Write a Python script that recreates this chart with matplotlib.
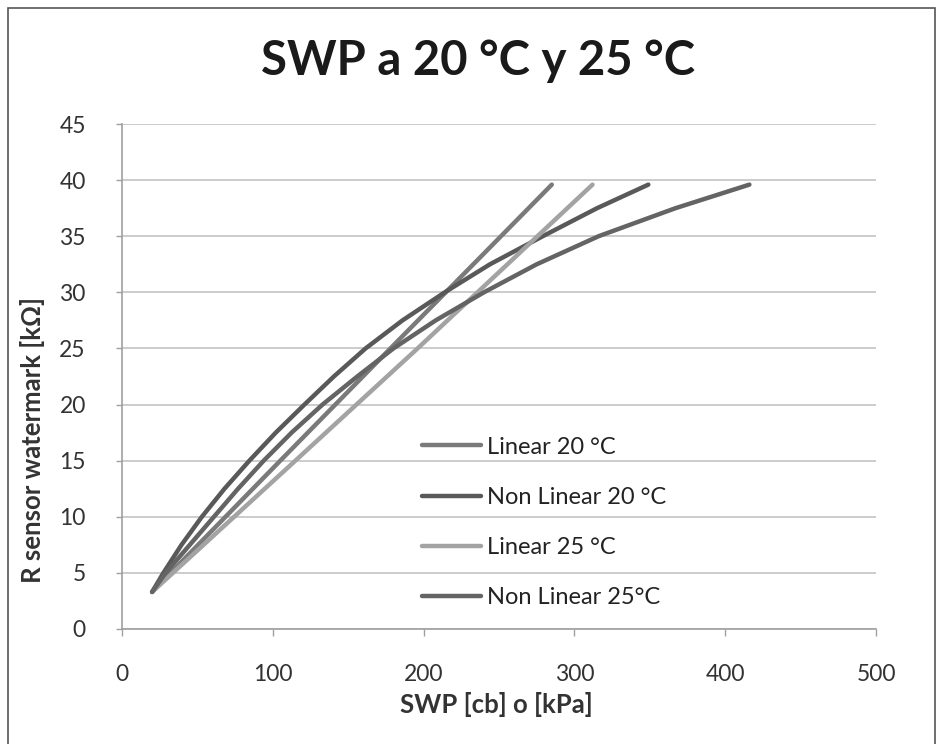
import matplotlib
matplotlib.use("Agg")
import matplotlib.pyplot as plt
from matplotlib.patches import Rectangle

plt.rcParams['font.family'] = ['Lato', 'DejaVu Sans']

# R sensor readings (kOhm) and SWP values (cb)
r_nl = [3.3, 5, 7.5, 10, 12.5, 15, 17.5, 20, 22.5, 25, 27.5, 30, 32.5, 35, 37.5, 39.6]
swp_nl20 = [20, 27.5, 39.5, 53, 68, 84.5, 102, 121, 140.5, 161.5, 186, 214, 244, 279, 315, 349]
swp_nl25 = [20, 29, 45, 61, 77, 94, 112.5, 133, 156, 180, 208, 240, 275, 316, 367, 416]

r_lin = [3.3, 15, 25, 39.6]
swp_l20 = [20, 105, 178, 285]
swp_l25 = [20, 115, 196, 312]

xticks = [0, 100, 200, 300, 400, 500]
yticks = [0, 5, 10, 15, 20, 25, 30, 35, 40, 45]

fig = plt.figure(figsize=(9.38, 7.44), dpi=100)
ax = fig.add_axes([0.130, 0.1546, 0.804, 0.6787])

ax.plot(swp_l20, r_lin, color='#7a7a7a', lw=3.2, solid_capstyle='round', label='Linear 20 °C')
ax.plot(swp_nl20, r_nl, color='#595959', lw=3.2, solid_capstyle='round', label='Non Linear 20 °C')
ax.plot(swp_l25, r_lin, color='#a3a3a3', lw=3.2, solid_capstyle='round', label='Linear 25 °C')
ax.plot(swp_nl25, r_nl, color='#646464', lw=3.2, solid_capstyle='round', label='Non Linear 25°C')

ax.set_xlim(0, 500)
ax.set_ylim(0, 45)
ax.set_xticks(xticks)
ax.set_yticks(yticks)
ax.tick_params(axis='both', labelsize=16.5, colors='#333333', width=1)
ax.tick_params(axis='x', color='#a0a0a0', length=5, pad=20)
ax.tick_params(axis='y', color='#a0a0a0', length=4, pad=22)
ax.grid(axis='y', color='#c4c4c4', lw=1.2)
ax.set_axisbelow(True)
for s in ['top', 'right']:
    ax.spines[s].set_visible(False)
for s in ['left', 'bottom']:
    ax.spines[s].set_color('#a0a0a0')
    ax.spines[s].set_linewidth(1.2)

ax.set_xlabel('SWP [cb] o [kPa]', fontsize=18.5, fontweight='bold', color='#333333', va='center')
ax.xaxis.set_label_coords(0.497, -0.149)
ax.set_ylabel('R sensor watermark [kΩ]', fontsize=18.5, fontweight='bold', color='#333333', va='center')
ax.yaxis.set_label_coords(-0.118, 0.374)

fig.text(0.51, 0.918, 'SWP a 20 °C y 25 °C', ha='center', va='center', fontsize=34,
         fontweight='bold', color='#1a1a1a')

leg = ax.legend(loc='center left', bbox_to_anchor=(0.398, 0.211), frameon=False,
                fontsize=17, handlelength=2.5, handletextpad=0.25, labelspacing=1.24,
                borderpad=0, borderaxespad=0)
for t in leg.get_texts():
    t.set_color('#222222')

fig.patches.append(Rectangle((8 / 938, -0.01), 927 / 938, 1 - 8 / 744 + 0.01,
                             transform=fig.transFigure, fill=False, ec='#555555', lw=1.2))

fig.savefig('out.png', dpi=100)
